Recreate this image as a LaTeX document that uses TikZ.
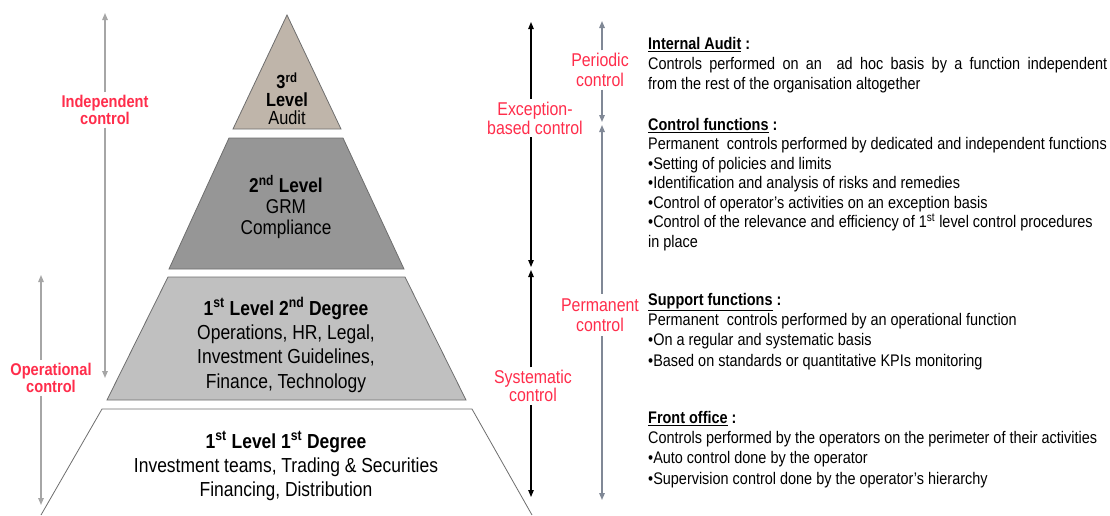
\documentclass[tikz,border=0pt]{standalone}
\usepackage{fontspec}
\setmainfont{Liberation Sans}[FakeStretch=0.86]
\usetikzlibrary{arrows.meta}

\definecolor{auditfill}{RGB}{191,181,170}
\definecolor{grmfill}{RGB}{150,150,150}
\definecolor{supportfill}{RGB}{192,192,192}
\definecolor{edgegray}{RGB}{110,110,110}
\definecolor{ctrlred}{RGB}{255,45,75}
\definecolor{lightarrow}{RGB}{166,166,166}
\definecolor{arrowblue}{RGB}{128,136,150}

\begin{document}
\begin{tikzpicture}[x=1pt, y=-1pt, >={Triangle[length=7pt,width=5.5pt]}]

    % Styles
    \tikzstyle{level} = [draw=edgegray, line width=0.8pt]
    \tikzstyle{leveltext} = [align=center, inner sep=0pt, font=\fontsize{20.3}{24}\selectfont]
    \tikzstyle{ctrllabel} = [fill=white, text=ctrlred, align=center, inner sep=3pt, font=\fontsize{18.5}{19.5}\selectfont]
    \tikzstyle{boldlabel} = [ctrllabel, font=\fontsize{17}{17}\selectfont\bfseries]
    \tikzstyle{grayarrow} = [->, draw=lightarrow, line width=1.4pt]
    \tikzstyle{blackarrow} = [->, draw=black, line width=1.1pt]
    \tikzstyle{bluearrow} = [->, draw=arrowblue, line width=1.4pt]
    \tikzstyle{desc} = [anchor=north west, align=left, inner sep=0pt, font=\fontsize{16.8}{20.3}\selectfont]

    \useasboundingbox (0,0) rectangle (1110,515);

    % Pyramid levels
    \filldraw[level, fill=auditfill] (287,15) -- (341,129) -- (233,129) -- cycle;
    \filldraw[level, fill=grmfill] (229,138) -- (343,138) -- (404,269) -- (169,269) -- cycle;
    \filldraw[level, fill=supportfill] (168,277) -- (405,277) -- (466,400) -- (107,400) -- cycle;
    \draw[level, fill=white] (41,515) -- (102,409) -- (472,409) -- (532,515);

    % Level texts
    \node[leveltext, font=\fontsize{19}{18}\selectfont] (audit) at (287,99)
        {\textbf{3\textsuperscript{rd}}\\ \textbf{Level}\\ Audit};
    \node[leveltext, font=\fontsize{20}{21}\selectfont] (grm) at (286,207)
        {\textbf{2\textsuperscript{nd} Level}\\ GRM\\ Compliance};
    \node[leveltext, font=\fontsize{20.3}{24.3}\selectfont] (support) at (286,345)
        {\textbf{1\textsuperscript{st} Level 2\textsuperscript{nd} Degree}\\ Operations, HR, Legal,\\ Investment Guidelines,\\ Finance, Technology};
    \node[leveltext, font=\fontsize{20.3}{24}\selectfont] (front) at (286,466)
        {\textbf{1\textsuperscript{st} Level 1\textsuperscript{st} Degree}\\ Investment teams, Trading \& Securities\\ Financing, Distribution};

    % Arrow end points
    \coordinate (indTop) at (105,13);   \coordinate (indBot) at (105,378);
    \coordinate (opTop) at (41,275);    \coordinate (opBot) at (41,505);
    \coordinate (excTop) at (531,22);   \coordinate (excBot) at (531,267);
    \coordinate (sysTop) at (531,270);  \coordinate (sysBot) at (531,497);
    \coordinate (perTop) at (602,21);   \coordinate (perBot) at (602,122);
    \coordinate (permTop) at (602,125); \coordinate (permBot) at (602,500);

    % Control labels
    \node[boldlabel] (indLbl) at (105,110) {Independent\\control};
    \node[boldlabel] (opLbl) at (51,378) {Operational\\control};
    \node[ctrllabel, font=\fontsize{18.5}{19}\selectfont] (excLbl) at (535,118) {Exception-\\based control};
    \node[ctrllabel, font=\fontsize{18.5}{17.5}\selectfont] (sysLbl) at (533,386) {Systematic\\control};
    \node[ctrllabel] (perLbl) at (600,70) {Periodic\\control};
    \node[ctrllabel, inner sep=5pt] (permLbl) at (600,315) {Permanent\\control};

    % Arrows
    \draw[grayarrow] (indTop |- indLbl.north) -- (indTop);
    \draw[grayarrow] (indBot |- indLbl.south) -- (indBot);
    \draw[grayarrow] (opTop |- opLbl.north) -- (opTop);
    \draw[grayarrow] (opBot |- opLbl.south) -- (opBot);
    \draw[blackarrow] (excTop |- excLbl.north) -- (excTop);
    \draw[blackarrow] (excBot |- excLbl.south) -- (excBot);
    \draw[blackarrow] (sysTop |- sysLbl.north) -- (sysTop);
    \draw[blackarrow] (sysBot |- sysLbl.south) -- (sysBot);
    \draw[bluearrow] (perTop |- perLbl.north) -- (perTop);
    \draw[bluearrow] (perBot |- perLbl.south) -- (perBot);
    \draw[bluearrow] (permTop |- permLbl.north) -- (permTop);
    \draw[bluearrow] (permBot |- permLbl.south) -- (permBot);

    % Descriptions
    \node[desc] (auditDesc) at (648,37)
        {\underline{\textbf{Internal Audit}}\textbf{ :}\\
         \makebox[459pt][s]{Controls performed on an \ ad hoc basis by a function independent}\\
         from the rest of the organisation altogether};
    \node[desc, font=\fontsize{16.8}{19.5}\selectfont] (ctrlDesc) at (648,118)
        {\underline{\textbf{Control functions}}\textbf{ :}\\
         Permanent \ controls performed by dedicated and independent functions\\
         •Setting of policies and limits\\
         •Identification and analysis of risks and remedies\\
         •Control of operator's activities on an exception basis\\
         •Control of the relevance and efficiency of 1\textsuperscript{st} level control procedures\\
         in place};
    \node[desc] (suppDesc) at (648,293)
        {\underline{\textbf{Support functions}}\textbf{ :}\\
         Permanent \ controls performed by an operational function\\
         •On a regular and systematic basis\\
         •Based on standards or quantitative KPIs monitoring};
    \node[desc] (frontDesc) at (648,411)
        {\underline{\textbf{Front office}}\textbf{ :}\\
         Controls performed by the operators on the perimeter of their activities\\
         •Auto control done by the operator\\
         •Supervision control done by the operator's hierarchy};

\end{tikzpicture}
\end{document}
